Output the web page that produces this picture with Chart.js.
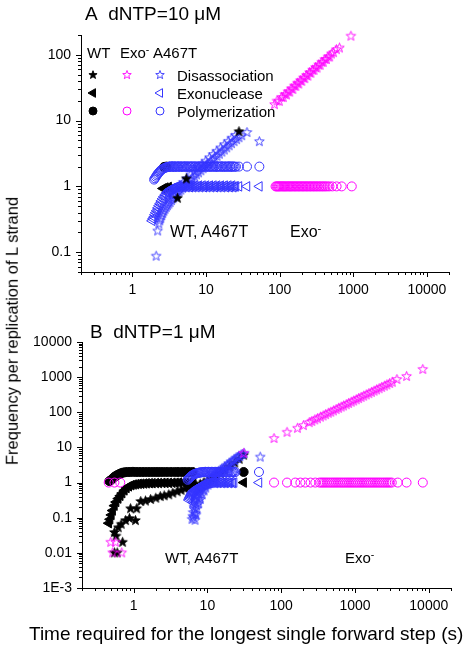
<!DOCTYPE html>
<html><head><meta charset="utf-8">
<script src="https://cdn.jsdelivr.net/npm/chart.js@4.4.1/dist/chart.umd.min.js"></script>
<style>
html,body{margin:0;padding:0;background:#fff;width:468px;height:650px;overflow:hidden;}
#wrap{position:relative;width:468px;height:650px;font-family:"Liberation Sans",Arial,sans-serif;color:#000;}
canvas{position:absolute;left:0;}
.t{position:absolute;white-space:nowrap;line-height:1;}
.t sup{font-size:0.7em;vertical-align:0.45em;line-height:0;}
</style></head><body><div id="wrap">
<canvas id="chartA" width="468" height="300" style="top:0"></canvas>
<canvas id="chartB" width="468" height="350" style="top:300px"></canvas>
<div class="t" style="left:85px;top:4px;font-size:19px">A&nbsp; dNTP=10 μM</div>
<div class="t" style="left:90px;top:322px;font-size:19px">B&nbsp; dNTP=1 μM</div>
<div class="t" style="left:87px;top:45px;font-size:15px">WT</div>
<div class="t" style="left:120px;top:45px;font-size:15px">Exo<sup>-</sup></div>
<div class="t" style="left:153px;top:45px;font-size:15px">A467T</div>
<div class="t" style="left:177px;top:68px;font-size:15px">Disassociation</div>
<div class="t" style="left:177px;top:86px;font-size:15px">Exonuclease</div>
<div class="t" style="left:177px;top:104px;font-size:15px">Polymerization</div>
<div class="t" style="left:170px;top:224px;font-size:16px">WT, A467T</div>
<div class="t" style="left:290px;top:224px;font-size:16px">Exo<sup>-</sup></div>
<div class="t" style="left:165px;top:550px;font-size:15px">WT, A467T</div>
<div class="t" style="left:345px;top:550px;font-size:15px">Exo<sup>-</sup></div>
<div class="t" style="left:29px;top:624px;font-size:19px">Time required for the longest single forward step (s)</div>
<div class="t" style="left:12px;top:331px;font-size:16.5px;transform:translate(-50%,-50%) rotate(-90deg);">Frequency per replication of L strand</div>
</div>
<script>
// ---------- tick labels ----------
const xTickValues = [1, 10, 100, 1000, 10000];
const xTickLabels = ['1', '10', '100', '1000', '10000'];
const yTickValuesA = [0.1, 1, 10, 100];
const yTickLabelsA = ['0.1', '1', '10', '100'];
const yTickValuesB = [0.001, 0.01, 0.1, 1, 10, 100, 1000, 10000];
const yTickLabelsB = ['1E-3', '0.01', '0.1', '1', '10', '100', '1000', '10000'];

// ---------- Panel A: dNTP = 10 uM ----------
// WT (black, filled) - only the few marks not hidden by A467T
const aWtDisX = [4.1, 5.4, 28];
const aWtDisY = [0.66, 1.3, 6.8];
const aWtExoX = [2.6, 2.8, 3.1];
const aWtExoY = [0.93, 0.96, 0.98];
const aWtPolX = [2.7, 2.9];
const aWtPolY = [1.98, 2];
// Exo- (magenta, open)
const aExoDisX = [85, 92, 99, 106, 112, 118, 124, 130, 137, 144, 151, 158, 166, 174, 182, 191, 200, 210, 220, 231, 242, 254, 266, 279, 293, 307, 322, 338, 355, 373, 392, 412, 433, 455, 478, 505, 540, 590, 650, 930];
const aExoDisY = [17.5, 19.8, 19.6, 22.5, 22.4, 25, 24.6, 27.5, 27.2, 30.5, 29.8, 33.5, 33.2, 37, 36, 40.5, 39.6, 44.5, 43.5, 48.5, 47.5, 53.5, 52.5, 58.5, 58, 64, 63, 70, 69.5, 77, 77, 85, 85, 93, 93, 103, 108, 120, 127, 192];
const aExoPolX = [88, 91, 94, 97, 100, 104, 108, 112, 116, 120, 125, 130, 135, 140, 146, 152, 158, 165, 172, 179, 187, 195, 203, 212, 221, 231, 241, 252, 263, 275, 288, 301, 315, 330, 346, 363, 381, 400, 420, 445, 475, 520, 594, 697, 955];
const aExoPolY = [1, 1, 1, 1, 1, 1, 1, 1, 1, 1, 1, 1, 1, 1, 1, 1, 1, 1, 1, 1, 1, 1, 1, 1, 1, 1, 1, 1, 1, 1, 1, 1, 1, 1, 1, 1, 1, 1, 1, 1, 1, 1, 1, 1, 1];
// A467T (blue, open)
const aADisX = [2.1, 2.2, 2.28, 2.35, 2.42, 2.5, 2.58, 2.67, 2.77, 2.88, 3.0, 3.12, 3.25, 3.4, 3.55, 3.72, 3.9, 4.1, 4.3, 4.55, 4.8, 5.1, 5.4, 5.75, 6.1, 6.5, 6.95, 7.4, 7.9, 8.5, 9.1, 9.8, 10.5, 11.3, 12.2, 13.1, 14.1, 15.2, 16.4, 17.7, 19.1, 20.6, 22.2, 24, 26, 28, 30.5, 36, 53,
  3.1, 3.5, 3.9, 4.4, 4.9, 5.5, 6.2, 7.0, 7.8, 8.8, 9.9, 11.1, 12.5, 14, 15.8, 17.7, 20, 22.4, 25];
const aADisY = [0.087, 0.21, 0.27, 0.3, 0.33, 0.36, 0.39, 0.42, 0.45, 0.48, 0.51, 0.54, 0.57, 0.61, 0.65, 0.69, 0.73, 0.78, 0.83, 0.88, 0.94, 1.0, 1.07, 1.14, 1.22, 1.31, 1.4, 1.5, 1.61, 1.73, 1.86, 2.0, 2.15, 2.31, 2.48, 2.67, 2.87, 3.09, 3.33, 3.58, 3.86, 4.15, 4.47, 4.8, 5.15, 5.5, 5.9, 6.6, 4.8,
  0.64, 0.73, 0.88, 1.02, 1.15, 1.31, 1.5, 1.7, 1.91, 2.16, 2.42, 2.72, 3.06, 3.42, 3.84, 4.3, 4.84, 5.4, 5.94];
const aAExoX = [1.85, 1.9, 1.96, 2.02, 2.08, 2.15, 2.22, 2.3, 2.38, 2.47,
  2.57, 2.68, 2.8, 2.93, 3.0, 3.07, 3.15, 3.22, 3.3, 3.4,
  3.5, 3.6, 3.7, 3.8, 3.92, 4.05, 4.17, 4.3, 4.45, 4.6,
  4.75, 4.9, 5.07, 5.25, 5.42, 5.6, 5.8, 6.0, 6.22, 6.45,
  6.67, 6.9, 7.15, 7.4, 7.7, 8.0, 8.3, 8.6, 8.95, 9.3,
  9.65, 10, 10.4, 10.8, 11.25, 11.7, 12.15, 12.6, 13.1, 13.6,
  14.15, 14.7, 15.3, 15.9, 16.5, 17.2, 17.9, 18.6, 19.35, 20.1,
  20.9, 21.7, 22.6, 23.5, 24.5, 25.5, 28, 36, 53];
const aAExoY = [0.3, 0.32, 0.34, 0.37, 0.4, 0.43, 0.47, 0.51, 0.55, 0.6,
  0.65, 0.7, 0.75, 0.8, 0.82, 0.85, 0.87, 0.89, 0.91, 0.92,
  0.94, 0.95, 0.96, 0.97, 0.98, 0.99, 1, 1.03, 0.97, 1,
  1.03, 0.97, 1, 1.03, 0.97, 1, 1.03, 0.97, 1, 1.03,
  0.97, 1, 1.03, 0.97, 1, 1.03, 0.97, 1, 1.03, 0.97,
  1, 1.03, 0.97, 1, 1.03, 0.97, 1, 1.03, 0.97, 1,
  1.03, 0.97, 1, 1.03, 0.97, 1, 1.03, 0.97, 1, 1.03,
  0.97, 1, 1.03, 0.97, 1, 1, 1, 1, 1];
const aAPolX = [1.97, 2.02, 2.08, 2.14, 2.2, 2.27, 2.35, 2.43, 2.52, 2.62,
  2.73, 2.85, 2.93, 3.0, 3.08, 3.15, 3.23, 3.3, 3.4, 3.5,
  3.6, 3.7, 3.82, 3.95, 4.07, 4.2, 4.35, 4.5, 4.65, 4.8,
  4.95, 5.1, 5.3, 5.5, 5.7, 5.9, 6.1, 6.3, 6.55, 6.8,
  7.05, 7.3, 7.6, 7.9, 8.2, 8.5, 8.85, 9.2, 9.6, 10,
  10.4, 10.8, 11.25, 11.7, 12.15, 12.6, 13.1, 13.6, 14.15, 14.7,
  15.3, 15.9, 16.5, 17.2, 17.9, 18.6, 19.35, 20.1, 20.9, 21.7,
  22.6, 23.5, 24.5, 25.5, 28, 36, 53];
const aAPolY = [1.27, 1.33, 1.4, 1.47, 1.54, 1.61, 1.68, 1.75, 1.81, 1.86,
  1.9, 1.94, 1.96, 1.97, 1.98, 1.99, 2, 2.02, 1.98, 2,
  2.03, 1.97, 2, 2.02, 1.98, 2, 2.03, 1.97, 2, 2.02,
  1.98, 2, 2.03, 1.97, 2, 2.02, 1.98, 2, 2.03, 1.97,
  2, 2.02, 1.98, 2, 2.03, 1.97, 2, 2.02, 1.98, 2,
  2.03, 1.97, 2, 2.02, 1.98, 2, 2.03, 1.97, 2, 2.02,
  1.98, 2, 2.03, 1.97, 2, 2.02, 1.98, 2, 2.03, 1.97,
  2, 2.02, 1.98, 2, 2, 2, 2];

// ---------- Panel B: dNTP = 1 uM ----------
const bWtDisX = [0.55, 0.6, 0.71, 0.55, 0.58, 0.62, 0.68, 0.78, 0.88, 1.06, 0.91, 1.1, 1.25, 1.45, 1.7, 2.0, 2.3, 2.6, 3.0, 3.4, 3.9, 4.4, 5.0, 5.6, 6.3, 7.0, 8.0, 9.0, 10, 11.5, 13, 15, 17, 20, 23.5, 27, 31];
const bWtDisY = [0.01, 0.01, 0.02, 0.038, 0.03, 0.052, 0.065, 0.083, 0.095, 0.083, 0.18, 0.18, 0.29, 0.3, 0.33, 0.36, 0.4, 0.42, 0.45, 0.5, 0.55, 0.6, 0.66, 0.72, 0.78, 0.84, 0.9, 1.0, 1.1, 1.3, 1.5, 1.8, 2.2, 2.8, 3.6, 4.6, 6];
const bWtExoX = [0.46, 0.48, 0.5, 0.52, 0.55, 0.58, 0.62, 0.66, 0.7, 0.75, 0.8, 0.86, 0.93, 1.0, 1.08, 1.17, 1.27, 1.38, 1.5, 1.65, 1.8, 2.0, 2.2, 2.45, 2.7, 3.0, 3.35, 3.7, 4.1, 4.6, 5.1, 5.7, 6.4, 31];
const bWtExoY = [0.07, 0.09, 0.12, 0.16, 0.22, 0.28, 0.35, 0.42, 0.5, 0.6, 0.7, 0.78, 0.84, 0.88, 0.9, 0.92, 0.93, 0.94, 0.95, 0.96, 0.96, 0.97, 0.97, 0.98, 0.98, 0.98, 0.99, 0.99, 1, 1, 1, 1, 1, 1];
const bWtPolX = [0.47, 0.5, 0.53, 0.56, 0.6, 0.64, 0.68, 0.72, 0.77, 0.83, 0.9, 0.98, 1.07, 1.17, 1.28, 1.4, 1.55, 1.7, 1.88, 2.08, 2.3, 2.55, 2.85, 3.2, 3.6, 4.0, 4.5, 5.0, 5.6, 6.3, 31];
const bWtPolY = [1.1, 1.2, 1.35, 1.5, 1.63, 1.75, 1.85, 1.92, 1.97, 2, 2, 2.02, 2, 2, 2, 2, 2, 2, 2, 2, 2, 2, 2, 2, 2, 2, 2, 2, 2, 2, 2];
const bExoDisX = [0.49, 0.57, 0.52, 0.69, 31, 80, 120, 166, 200, 240, 260, 285, 310, 340, 370, 400, 435, 470, 510, 555, 600, 650, 700, 760, 820, 890, 960, 1040, 1120, 1210, 1310, 1420, 1540, 1670, 1810, 1960, 2120, 2300, 2500, 2700, 2950, 3200, 3700, 5000, 8300];
const bExoDisY = [0.02, 0.02, 0.01, 0.01, 6.8, 18, 27, 35, 42, 51, 55, 61, 66, 73, 79, 86, 94, 101, 110, 120, 130, 141, 152, 165, 179, 194, 210, 228, 246, 266, 289, 313, 340, 369, 401, 435, 471, 512, 557, 603, 660, 716, 860, 1050, 1660];
const bExoPolX = [0.46, 0.55, 0.66, 80, 120, 155, 182, 212, 250, 290, 330, 350, 370, 392, 415, 440, 466, 494, 523, 554, 587, 622, 659, 698, 740, 784, 830, 880, 932, 988, 1047, 1109, 1175, 1245, 1320, 1400, 1480, 1570, 1660, 1760, 1870, 1980, 2100, 2220, 2360, 2500, 2650, 2800, 2970, 3150, 3800, 5000, 8300];
const bExoPolY = [1, 1, 1, 1, 1, 1, 1, 1, 1, 1, 1, 1, 1, 1, 1, 1, 1, 1, 1, 1, 1, 1, 1, 1, 1, 1, 1, 1, 1, 1, 1, 1, 1, 1, 1, 1, 1, 1, 1, 1, 1, 1, 1, 1, 1, 1, 1, 1, 1, 1, 1, 1, 1];
const bADisX = [6.2, 6.5, 6.8, 7.0, 6.4, 6.7, 7.1, 7.5, 7.9, 6.3, 6.6, 7.0, 7.4, 7.9, 8.4, 9.0, 9.6, 10.3, 11, 11.8, 12.7, 13.7, 14.8, 16, 17.3, 18.7, 20.2, 21.8, 23.5, 25.5, 27.5, 30, 31.5, 52,
  6.9, 7.2, 7.6, 8.0, 8.5, 9.0, 9.5, 10.2, 6.35, 6.6, 6.9, 7.2, 7.6, 8.1, 8.7,
  12, 13.2, 14.3, 15.5, 17, 18.3, 19.5, 21, 22.7, 24.5, 26.5, 28.7];
const bADisY = [0.09, 0.1, 0.085, 0.12, 0.14, 0.17, 0.22, 0.3, 0.38, 0.25, 0.32, 0.4, 0.5, 0.6, 0.7, 0.82, 0.95, 1.08, 1.22, 1.38, 1.55, 1.75, 1.98, 2.25, 2.55, 2.9, 3.3, 3.75, 4.25, 4.85, 5.5, 6.3, 6.8, 5.3,
  0.13, 0.18, 0.25, 0.33, 0.45, 0.58, 0.7, 0.85, 0.11, 0.2, 0.28, 0.36, 0.46, 0.56, 0.66,
  1.6, 1.85, 2.1, 2.4, 2.75, 3.1, 3.45, 3.9, 4.4, 5.0, 5.6, 6.2];
const bAExoX = [5.6, 5.7, 5.8, 5.9, 6.0, 6.1, 6.2, 6.3, 6.4, 6.55,
  6.7, 6.85, 7.0, 7.15, 7.3, 7.5, 7.7, 7.9, 8.1, 8.35,
  8.6, 8.85, 9.1, 9.4, 9.7, 10, 10.3, 10.65, 11, 11.4,
  11.8, 12.2, 12.6, 13.05, 13.5, 14, 14.5, 15.05, 15.6, 16.2,
  16.8, 17.4, 18, 18.7, 19.5, 20.2, 21, 22, 23, 50];
const bAExoY = [0.32, 0.35, 0.38, 0.41, 0.44, 0.47, 0.5, 0.52, 0.55, 0.58,
  0.6, 0.63, 0.65, 0.68, 0.7, 0.73, 0.75, 0.78, 0.8, 0.83,
  0.85, 0.87, 0.89, 0.91, 0.93, 0.95, 0.96, 0.97, 0.98, 0.99,
  1, 1.03, 0.97, 1, 1.03, 0.97, 1, 1.03, 0.97, 1,
  1.03, 0.97, 1, 1.03, 0.97, 1, 1.03, 0.97, 1, 1];
const bAPolX = [5.4, 5.55, 5.7, 5.85, 6.0, 6.15, 6.3, 6.45, 6.6, 6.8,
  7.0, 7.2, 7.4, 7.6, 7.8, 8.05, 8.3, 8.55, 8.8, 9.1,
  9.4, 9.7, 10, 10.35, 10.7, 11.1, 11.5, 11.9, 12.3, 12.75,
  13.2, 13.7, 14.2, 14.75, 15.3, 15.9, 16.5, 17.1, 17.8, 18.5,
  19.2, 19.9, 20.7, 21.5, 22.3, 23.1, 24, 50];
const bAPolY = [1.2, 1.28, 1.35, 1.43, 1.5, 1.56, 1.62, 1.67, 1.72, 1.76,
  1.8, 1.84, 1.87, 1.9, 1.92, 1.94, 1.96, 1.97, 1.98, 2,
  2.03, 1.97, 2, 2.03, 1.97, 2, 2.03, 1.97, 2, 2.03,
  1.97, 2, 2.03, 1.97, 2, 2.03, 1.97, 2, 2.03, 1.97,
  2, 2.03, 1.97, 2, 2.03, 1.97, 2, 2];

// ---------- styles ----------
const MAG = '#ff00ff', BLU = '#3535ff', BLK = '#000000';
const FONT = '"Liberation Sans", Arial, sans-serif';

function makeStar(fill, stroke, r) {
  const s = Math.ceil(r * 2 + 3);
  const c = document.createElement('canvas'); c.width = s; c.height = s;
  const g = c.getContext('2d'); const cx = s / 2, cy = s / 2;
  g.beginPath();
  for (let i = 0; i < 10; i++) {
    const ang = -Math.PI / 2 + i * Math.PI / 5;
    const rr = i % 2 === 0 ? r : r * 0.42;
    g.lineTo(cx + rr * Math.cos(ang), cy + rr * Math.sin(ang));
  }
  g.closePath();
  if (fill) { g.fillStyle = fill; g.fill(); }
  if (stroke) { g.strokeStyle = stroke; g.lineWidth = 0.9; g.stroke(); }
  return c;
}
const starBlk = makeStar(BLK, BLK, 5);
const starMag = makeStar(null, MAG, 5);
const starBlu = makeStar(null, BLU, 5);
const starBlkL = makeStar(BLK, BLK, 4.3);
const starMagL = makeStar(null, MAG, 4.5);
const starBluL = makeStar(null, BLU, 4.5);

function pts(xs, ys) { return xs.map((x, i) => ({ x: x, y: ys[i] })); }
// lower "order" is drawn later (on top)
function ds(xs, ys, kind, color, filled, order) {
  const base = { data: pts(xs, ys), order: order, showLine: false, pointBorderWidth: 1, clip: false,
    pointBorderColor: color, pointBackgroundColor: filled ? color : 'rgba(0,0,0,0)' };
  if (kind === 'star') { base.pointStyle = color === BLK ? starBlk : (color === MAG ? starMag : starBlu); base.pointRadius = 5; }
  else if (kind === 'tri') { base.pointStyle = 'triangle'; base.pointRotation = -90; base.pointRadius = 5.5; }
  else { base.pointStyle = 'circle'; base.pointRadius = 4.5; }
  return base;
}

function isPow10(v) { const l = Math.log10(v); return Math.abs(l - Math.round(l)) < 1e-6; }
function logTicks(min, max) {
  const out = [];
  for (let e = Math.floor(Math.log10(min)); e <= Math.ceil(Math.log10(max)); e++) {
    for (let m = 1; m <= 9; m++) {
      const v = parseFloat((m * Math.pow(10, e)).toPrecision(6));
      if (v >= min * 0.999 && v <= max * 1.001) out.push(v);
    }
  }
  return out;
}
function labelFor(vals, labs) {
  return function (value) {
    const i = vals.findIndex(t => Math.abs(t - value) / t < 1e-6);
    return i >= 0 ? labs[i] : '';
  };
}

const tickMarks = {
  id: 'tickMarks',
  afterDraw(chart) {
    const ctx = chart.ctx, ca = chart.chartArea, xs = chart.scales.x, ys = chart.scales.y;
    ctx.save(); ctx.strokeStyle = '#000'; ctx.lineWidth = 1;
    xs.ticks.forEach(t => {
      const p = Math.round(xs.getPixelForValue(t.value)) + 0.5;
      const L = isPow10(t.value) ? 5 : 3;
      ctx.beginPath(); ctx.moveTo(p, ca.bottom); ctx.lineTo(p, ca.bottom + L); ctx.stroke();
    });
    ys.ticks.forEach(t => {
      const p = Math.round(ys.getPixelForValue(t.value)) + 0.5;
      const L = isPow10(t.value) ? 5 : 3;
      ctx.beginPath(); ctx.moveTo(ca.left, p); ctx.lineTo(ca.left - L, p); ctx.stroke();
    });
    ctx.restore();
  }
};

const legendMarks = {
  id: 'legendMarks',
  afterDraw(chart) {
    const ctx = chart.ctx; ctx.save();
    const rows = [75, 93, 111], cols = [93, 127, 160];
    const img = (im, x, y) => ctx.drawImage(im, Math.round(x - im.width / 2), Math.round(y - im.height / 2));
    const tri = (x, y, col, fill) => {
      const r = 5; ctx.beginPath(); ctx.moveTo(x - r, y); ctx.lineTo(x + r / 2, y - r * 0.866); ctx.lineTo(x + r / 2, y + r * 0.866); ctx.closePath();
      if (fill) { ctx.fillStyle = col; ctx.fill(); } ctx.strokeStyle = col; ctx.lineWidth = 1; ctx.stroke();
    };
    const cir = (x, y, col, fill) => {
      ctx.beginPath(); ctx.arc(x, y, 4, 0, Math.PI * 2);
      if (fill) { ctx.fillStyle = col; ctx.fill(); } ctx.strokeStyle = col; ctx.lineWidth = 1; ctx.stroke();
    };
    img(starBlkL, cols[0], rows[0]); img(starMagL, cols[1], rows[0]); img(starBluL, cols[2], rows[0]);
    tri(cols[0], rows[1], BLK, true); tri(cols[2], rows[1], BLU, false);
    cir(cols[0], rows[2], BLK, true); cir(cols[1], rows[2], MAG, false); cir(cols[2], rows[2], BLU, false);
    ctx.restore();
  }
};

function makeScales(yMin, yMax, yVals, yLabs, yWidth, xHeight) {
  const tickFont = { family: FONT, size: 14 };
  return {
    x: {
      type: 'logarithmic', min: 0.2, max: 20000, position: 'bottom',
      grid: { display: true, drawOnChartArea: false, drawTicks: false, tickLength: 0 },
      border: { display: true, color: '#000', width: 1 },
      afterBuildTicks: s => { s.ticks = logTicks(0.2, 20000).map(v => ({ value: v })); },
      afterFit: s => { s.height = xHeight; },
      ticks: { autoSkip: false, maxRotation: 0, minRotation: 0, padding: 10, color: '#000', font: tickFont,
        callback: labelFor(xTickValues, xTickLabels) }
    },
    y: {
      type: 'logarithmic', min: yMin, max: yMax, position: 'left',
      grid: { display: true, drawOnChartArea: false, drawTicks: false, tickLength: 0 },
      border: { display: true, color: '#000', width: 1 },
      afterBuildTicks: s => { s.ticks = logTicks(yMin, yMax).map(v => ({ value: v })); },
      afterFit: s => { s.width = yWidth; },
      ticks: { autoSkip: false, padding: 10, color: '#000', font: tickFont,
        callback: labelFor(yVals, yLabs) }
    }
  };
}

const common = {
  responsive: false, animation: false, events: [],
  plugins: { legend: { display: false }, tooltip: { enabled: false } }
};

new Chart(document.getElementById('chartA'), {
  type: 'scatter',
  data: { datasets: [
    ds(aExoDisX, aExoDisY, 'star', MAG, false, 0),
    ds(aExoPolX, aExoPolY, 'circle', MAG, false, 0),
    ds(aWtDisX, aWtDisY, 'star', BLK, true, 1),
    ds(aADisX, aADisY, 'star', BLU, false, 2),
    ds(aAExoX, aAExoY, 'tri', BLU, false, 3),
    ds(aAPolX, aAPolY, 'circle', BLU, false, 3),
    ds(aWtExoX, aWtExoY, 'tri', BLK, true, 4),
    ds(aWtPolX, aWtPolY, 'circle', BLK, true, 4)
  ] },
  options: Object.assign({}, common, {
    layout: { padding: { left: 0, right: 19, top: 35, bottom: 0 } },
    scales: makeScales(0.05, 200, yTickValuesA, yTickLabelsA, 81, 28)
  }),
  plugins: [tickMarks, legendMarks]
});

new Chart(document.getElementById('chartB'), {
  type: 'scatter',
  data: { datasets: [
    ds(bExoDisX, bExoDisY, 'star', MAG, false, 0),
    ds(bExoPolX, bExoPolY, 'circle', MAG, false, 0),
    ds(bADisX, bADisY, 'star', BLU, false, 1),
    ds(bAExoX, bAExoY, 'tri', BLU, false, 2),
    ds(bAPolX, bAPolY, 'circle', BLU, false, 2),
    ds(bWtDisX, bWtDisY, 'star', BLK, true, 3),
    ds(bWtExoX, bWtExoY, 'tri', BLK, true, 4),
    ds(bWtPolX, bWtPolY, 'circle', BLK, true, 4)
  ] },
  options: Object.assign({}, common, {
    layout: { padding: { left: 0, right: 17, top: 42, bottom: 0 } },
    scales: makeScales(0.001, 10000, yTickValuesB, yTickLabelsB, 82, 62)
  }),
  plugins: [tickMarks]
});
</script>
</body></html>
